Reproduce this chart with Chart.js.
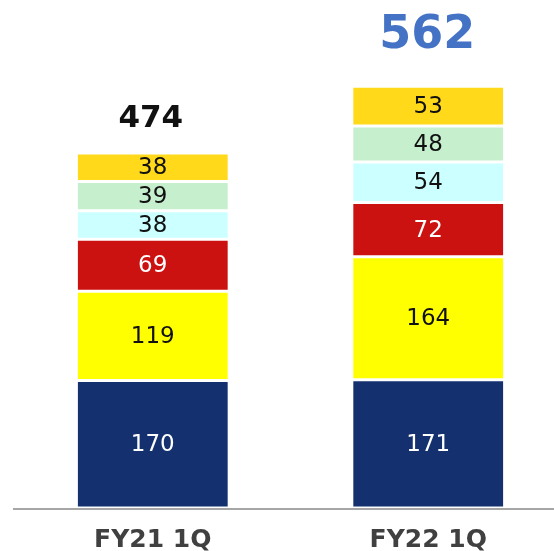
<!DOCTYPE html>
<html lang="en">
<head>
    <meta charset="UTF-8">
    <title>FY21 1Q vs FY22 1Q</title>
    <script src="https://cdn.jsdelivr.net/npm/chart.js"></script>
    <style>
        html, body {
            margin: 0;
            padding: 0;
            background: white;
            overflow: hidden;
        }
        .chart-box {
            width: 570px;
            height: 551px;
            position: relative;
        }
    </style>
</head>
<body>
    <div class="chart-box">
        <canvas id="chart"></canvas>
    </div>

    <script>
        // data, bottom segment first
        const quarters = ['FY21 1Q', 'FY22 1Q'];
        const seg1 = [170, 171];
        const seg2 = [119, 164];
        const seg3 = [69, 72];
        const seg4 = [38, 54];
        const seg5 = [39, 48];
        const seg6 = [38, 53];
        const totals = [474, 562];

        const segColors = ['#14306e', '#ffff00', '#cc1111', '#ccffff', '#c6efce', '#ffd91a'];
        const segTextColors = ['#ffffff', '#111111', '#ffffff', '#111111', '#111111', '#111111'];
        const FONT = '"DejaVu Sans", Verdana, sans-serif';

        const segLabels = {
            id: 'segLabels',
            afterDatasetsDraw(chart) {
                const ctx = chart.ctx;
                ctx.save();
                ctx.textAlign = 'center';
                ctx.textBaseline = 'middle';
                chart.data.datasets.forEach((ds, i) => {
                    const meta = chart.getDatasetMeta(i);
                    meta.data.forEach((bar, j) => {
                        ctx.fillStyle = segTextColors[i];
                        ctx.font = '23px ' + FONT;
                        ctx.fillText(ds.data[j], bar.x, (bar.y + bar.base) / 2 + 1);
                    });
                });

                // totals above the bars
                const topMeta = chart.getDatasetMeta(chart.data.datasets.length - 1);
                topMeta.data.forEach((bar, j) => {
                    if (j === 0) {
                        ctx.fillStyle = '#111111';
                        ctx.font = 'bold 31px ' + FONT;
                        ctx.fillText(totals[j], bar.x - 2, bar.y - 34);
                    } else {
                        ctx.fillStyle = '#4472c4';
                        ctx.font = 'bold 46px ' + FONT;
                        ctx.fillText(totals[j], bar.x - 1, bar.y - 50);
                    }
                });

                // baseline and category labels
                const area = chart.chartArea;
                const xs = chart.scales.x;
                ctx.strokeStyle = '#a6a6a6';
                ctx.lineWidth = 2;
                ctx.beginPath();
                ctx.moveTo(13, area.bottom + 1);
                ctx.lineTo(chart.width, area.bottom + 1);
                ctx.stroke();

                ctx.fillStyle = '#404040';
                ctx.font = 'bold 25px ' + FONT;
                quarters.forEach((q, j) => {
                    ctx.fillText(q, xs.getPixelForValue(j) - 13 + 13, area.bottom + 32);
                });
                ctx.restore();
            }
        };

        const seriesList = [seg1, seg2, seg3, seg4, seg5, seg6];

        new Chart(document.getElementById('chart'), {
            type: 'bar',
            data: {
                labels: quarters,
                datasets: seriesList.map((s, i) => ({
                    data: s,
                    backgroundColor: segColors[i],
                    borderColor: '#ffffff',
                    borderWidth: { top: 1.5, bottom: 1.5, left: 0, right: 0 },
                    borderSkipped: false,
                    categoryPercentage: 1,
                    barPercentage: 0.545
                }))
            },
            options: {
                responsive: true,
                maintainAspectRatio: false,
                animation: false,
                layout: { padding: { left: 15, right: 4, top: 0, bottom: 43 } },
                scales: {
                    x: { stacked: true, display: false },
                    y: { stacked: true, display: false, min: 0, max: 677 }
                },
                plugins: {
                    legend: { display: false },
                    tooltip: { enabled: false }
                }
            },
            plugins: [segLabels]
        });
    </script>
</body>
</html>
